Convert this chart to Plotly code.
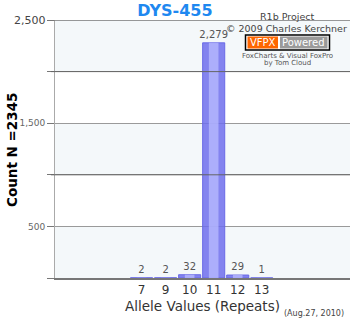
import plotly.graph_objects as go

# ---- data ----
alleles = ["7", "9", "10", "11", "12", "13"]
counts = [2, 2, 32, 2279, 29, 1]
count_labels = ["2", "2", "32", "2,279", "29", "1"]
y_tickvals = [0, 500, 1000, 1500, 2000, 2500]
y_ticktext = ["", "500", "", "1,500", "", "2,500"]
title_text = "DYS-455"
y_title = "Count N =2345"
x_title = "Allele Values (Repeats)"
date_text = "(Aug.27, 2010)"

FONT = "DejaVu Sans, Verdana, sans-serif"

fig = go.Figure()

# base bar (darker edges)
fig.add_trace(go.Bar(
    x=alleles, y=counts, width=0.92,
    marker=dict(color="rgba(110,110,236,0.85)", line=dict(color="rgba(100,100,230,0.9)", width=1)),
    text=count_labels, textposition="outside", constraintext="none",
    textfont=dict(family=FONT, size=10, color="#555555"),
    cliponaxis=False, hoverinfo="skip",
))
# lighter center highlight (cylinder look)
fig.add_trace(go.Bar(
    x=alleles, y=counts, width=0.4,
    marker=dict(color="rgba(185,188,255,0.75)", line=dict(width=0)),
    hoverinfo="skip",
))

shapes = []
# alternating background bands
for i in range(len(y_tickvals) - 1):
    if i % 2 == 0:
        shapes.append(dict(type="rect", xref="paper", yref="y", x0=0, x1=1,
                           y0=y_tickvals[i], y1=y_tickvals[i + 1],
                           fillcolor="#f4f8fa", line=dict(width=0), layer="below"))
# darker lines at unlabeled ticks
for v, t in zip(y_tickvals, y_ticktext):
    if t == "" and v > 0:
        shapes.append(dict(type="line", xref="paper", yref="y", x0=-0.014, x1=1,
                           y0=v, y1=v, line=dict(color="#666666", width=1), layer="above"))
# top border
shapes.append(dict(type="line", xref="paper", yref="y", x0=-0.025, x1=1, y0=y_tickvals[-1], y1=y_tickvals[-1],
                   line=dict(color="#777777", width=1.5)))


def px_x(px):
    return (px - 55) / 295.0


def px_y(py):
    return (278 - py) / 258.0


# VFPX badge
shapes.append(dict(type="rect", xref="paper", yref="paper", x0=px_x(245.5), x1=px_x(329.5),
                   y0=px_y(50), y1=px_y(35), fillcolor="white", line=dict(color="black", width=1.5)))
shapes.append(dict(type="rect", xref="paper", yref="paper", x0=px_x(247.5), x1=px_x(278), y0=px_y(48.5),
                   y1=px_y(36.5), fillcolor="#ff6600", line=dict(width=0)))
shapes.append(dict(type="rect", xref="paper", yref="paper", x0=px_x(280), x1=px_x(327.5), y0=px_y(48.5),
                   y1=px_y(36.5), fillcolor="#9a9a9a", line=dict(width=0)))


def ann(text, x, y, size, color, **kw):
    d = dict(text=text, xref="paper", yref="paper", x=px_x(x), y=px_y(y),
             xanchor="center", yanchor="middle", showarrow=False,
             font=dict(family=FONT, size=size, color=color))
    d.update(kw)
    return d


# top tick label drawn larger (as in the reference)
ticktext_axis = list(y_ticktext)
top_label = ticktext_axis[-1]
ticktext_axis[-1] = ""

annotations = [
    ann(y_title, 12, 150, 13.5, "black", textangle=-90,
        font=dict(family=FONT, size=13.5, color="black", weight="bold")),
    dict(text=top_label, xref="paper", yref="y", x=px_x(48), y=y_tickvals[-1], xanchor="right",
         yanchor="middle", showarrow=False, font=dict(family=FONT, size=11, color="#444444")),
    ann(date_text, 314, 313, 8, "#444444"),
    ann("R1b Project", 287, 17, 9.5, "#444444"),
    ann("© 2009 Charles Kerchner", 286.5, 28, 9.5, "#444444"),
    ann("VFPX", 262.7, 42.5, 10, "white"),
    ann("Powered", 303.7, 42.5, 10, "white"),
    ann("FoxCharts & Visual FoxPro", 287, 55.5, 7, "#555555"),
    ann("by Tom Cloud", 287, 63, 7, "#555555"),
]

fig.update_layout(
    width=350, height=320,
    margin=dict(l=55, r=0, t=20, b=42),
    paper_bgcolor="white", plot_bgcolor="white",
    barmode="overlay", showlegend=False,
    title=dict(text=title_text, x=0.5, xanchor="center", y=0.968, yanchor="middle",
               font=dict(family=FONT, size=16, color="#1e88f0", weight="bold")),
    xaxis=dict(type="category", categoryorder="array", categoryarray=alleles,
               range=[-3.6, 8.67], showgrid=False, zeroline=False,
               showline=True, linecolor="#777777", linewidth=1.5, ticks="",
               tickfont=dict(family=FONT, size=12, color="#333333"),
               title=dict(text=x_title, standoff=5, font=dict(family=FONT, size=13.5, color="#333333"))),
    yaxis=dict(range=[0, 2500], tickvals=y_tickvals, ticktext=ticktext_axis,
               showgrid=True, gridcolor="#9a9a9a", gridwidth=1, zeroline=False,
               showline=True, linecolor="#aaaaaa", linewidth=1,
               ticks="outside", ticklen=7, tickcolor="#777777",
               tickfont=dict(family=FONT, size=9, color="#666666")),
    shapes=shapes, annotations=annotations,
)

fig.write_html("out.html")
